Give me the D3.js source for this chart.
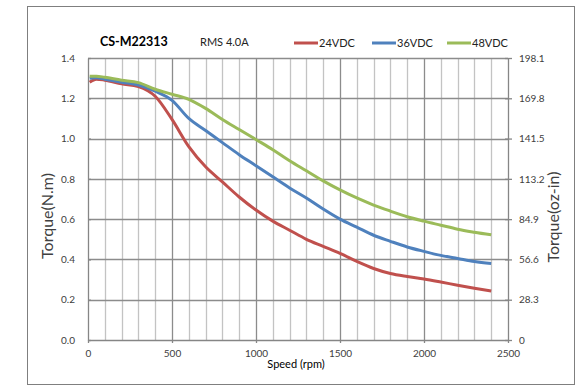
<!DOCTYPE html>
<html>
<head>
<meta charset="utf-8">
<script src="https://cdn.jsdelivr.net/npm/d3@7"></script>
<style>
  html, body { margin: 0; padding: 0; background: #fff; }
  svg { display: block; font-family: Lato, "Open Sans", sans-serif; }
</style>
</head>
<body>
<svg id="chart" width="587" height="387"></svg>
<script>
// Speed (rpm) sample points
const speeds = [10, 50, 100, 200, 300, 400, 500, 600, 700, 800, 900, 1000, 1100, 1200,
  1300, 1400, 1500, 1600, 1700, 1800, 1900, 2000, 2100, 2200, 2300, 2400];
// Torque (N.m) for each supply voltage
const torque24 = [1.28, 1.295, 1.29, 1.272, 1.258, 1.21, 1.095, 0.96, 0.86, 0.785, 0.71, 0.645,
  0.59, 0.545, 0.50, 0.465, 0.43, 0.39, 0.355, 0.33, 0.315, 0.303, 0.288, 0.272, 0.257, 0.243];
const torque36 = [1.30, 1.302, 1.295, 1.28, 1.266, 1.235, 1.19, 1.10, 1.04, 0.98, 0.92, 0.865,
  0.81, 0.755, 0.705, 0.65, 0.60, 0.56, 0.52, 0.49, 0.462, 0.44, 0.42, 0.405, 0.39, 0.38];
const torque48 = [1.31, 1.31, 1.304, 1.29, 1.278, 1.245, 1.22, 1.195, 1.15, 1.095, 1.045, 0.995,
  0.945, 0.89, 0.84, 0.79, 0.745, 0.705, 0.67, 0.64, 0.612, 0.59, 0.57, 0.55, 0.535, 0.522];
const seriesNames = ["24VDC", "36VDC", "48VDC"];
const seriesColors = ["#c0504d", "#4f81bd", "#9bbb59"];
const leftTicks = [0, 0.2, 0.4, 0.6, 0.8, 1.0, 1.2, 1.4];
const rightTicks = [0, 28.3, 56.6, 84.9, 113.2, 141.5, 169.8, 198.1];
const xTicks = [0, 500, 1000, 1500, 2000, 2500];

const svg = d3.select("#chart");
const plot = { left: 88, right: 508, top: 58, bottom: 340 };

const x = d3.scaleLinear().domain([0, 2500]).range([plot.left, plot.right]);
const y = d3.scaleLinear().domain([0, 1.4]).range([plot.bottom, plot.top]);
const y2 = d3.scaleLinear().domain([0, 198.1]).range([plot.bottom, plot.top]);

// Outer frame
svg.append("rect")
  .attr("x", 27.5).attr("y", 6.5).attr("width", 547).attr("height", 378)
  .attr("fill", "none").attr("stroke", "#7f7f7f").attr("stroke-width", 1);

// Grid: minor verticals every 100 rpm, major every 500
const grid = svg.append("g");
grid.selectAll("line.minor")
  .data(d3.range(100, 2500, 100).filter(v => v % 500 !== 0))
  .join("line")
  .attr("x1", d => Math.round(x(d)) + 0.5).attr("x2", d => Math.round(x(d)) + 0.5)
  .attr("y1", plot.top).attr("y2", plot.bottom)
  .attr("stroke", "#c3c3c3").attr("stroke-width", 1.3);
grid.selectAll("line.major")
  .data([500, 1000, 1500, 2000])
  .join("line")
  .attr("x1", d => Math.round(x(d)) + 0.5).attr("x2", d => Math.round(x(d)) + 0.5)
  .attr("y1", plot.top).attr("y2", plot.bottom)
  .attr("stroke", "#8c8c8c").attr("stroke-width", 1.3);
grid.selectAll("line.h")
  .data(leftTicks.slice(1))
  .join("line")
  .attr("x1", plot.left).attr("x2", plot.right)
  .attr("y1", d => Math.round(y(d)) + 0.5).attr("y2", d => Math.round(y(d)) + 0.5)
  .attr("stroke", "#8c8c8c").attr("stroke-width", 1.3);

// Axes
const axisColor = "#868686";
const textColor = "#404040";
function styleAxis(g) {
  g.select(".domain").attr("stroke", axisColor).attr("stroke-width", 1.3);
  g.selectAll(".tick line").attr("stroke", axisColor).attr("stroke-width", 1.3);
  g.selectAll(".tick text").attr("fill", textColor).style("font-size", "10px")
    .style("font-family", "Lato, 'Open Sans', sans-serif");
}
const gLeft = svg.append("g").attr("transform", `translate(${plot.left},0)`)
  .call(d3.axisLeft(y).tickValues(leftTicks).tickFormat(d3.format(".1f"))
    .tickSize(4).tickSizeOuter(0).tickPadding(9));
styleAxis(gLeft);
gLeft.selectAll(".tick line").attr("x2", 3);

const gRight = svg.append("g").attr("transform", `translate(${plot.right},0)`)
  .call(d3.axisRight(y2).tickValues(rightTicks).tickFormat(d => d === 0 ? "0" : d3.format(".1f")(d))
    .tickSize(4).tickSizeOuter(0).tickPadding(7));
styleAxis(gRight);
gRight.selectAll(".tick line").attr("x1", -3);

const gBottom = svg.append("g").attr("transform", `translate(0,${plot.bottom})`)
  .call(d3.axisBottom(x).tickValues(xTicks).tickFormat(d3.format("d"))
    .tickSize(3).tickSizeOuter(0).tickPadding(7));
styleAxis(gBottom);

// Axis titles
svg.append("text")
  .attr("transform", "translate(53,216) rotate(-90)")
  .attr("text-anchor", "middle").attr("fill", textColor)
  .style("font-size", "16px").text("Torque(N.m)");
svg.append("text")
  .attr("transform", "translate(559,217) rotate(-90)")
  .attr("text-anchor", "middle").attr("fill", textColor)
  .style("font-size", "16px").text("Torque(oz-in)");
svg.append("text")
  .attr("x", 296).attr("y", 368).attr("text-anchor", "middle").attr("fill", "#000")
  .style("font-size", "11px").text("Speed (rpm)");

// Curves
const series = [torque24, torque36, torque48];
const line = d3.line()
  .x((d, i) => x(speeds[i]))
  .y(d => y(d))
  .curve(d3.curveMonotoneX);
svg.append("g").selectAll("path")
  .data(series)
  .join("path")
  .attr("d", d => line(d))
  .attr("fill", "none")
  .attr("stroke", (d, i) => seriesColors[i])
  .attr("stroke-width", 3)
  .attr("stroke-linejoin", "round");

// Header text
svg.append("text").attr("x", 100).attr("y", 46)
  .style("font-size", "12.5px").style("font-weight", "bold").attr("fill", "#000")
  .text("CS-M22313");
svg.append("text").attr("x", 200).attr("y", 46)
  .style("font-size", "11px").attr("fill", "#222").text("RMS 4.0A");

// Legend
const legendX = [294, 372, 447];
const legend = svg.append("g").selectAll("g")
  .data(seriesNames)
  .join("g")
  .attr("transform", (d, i) => `translate(${legendX[i]},43)`);
legend.append("line")
  .attr("x1", 0).attr("x2", 24).attr("y1", 0).attr("y2", 0)
  .attr("stroke", (d, i) => seriesColors[i]).attr("stroke-width", 3);
legend.append("text")
  .attr("x", 25).attr("y", 4)
  .style("font-size", "11px").attr("fill", "#222").text(d => d);
</script>
</body>
</html>
